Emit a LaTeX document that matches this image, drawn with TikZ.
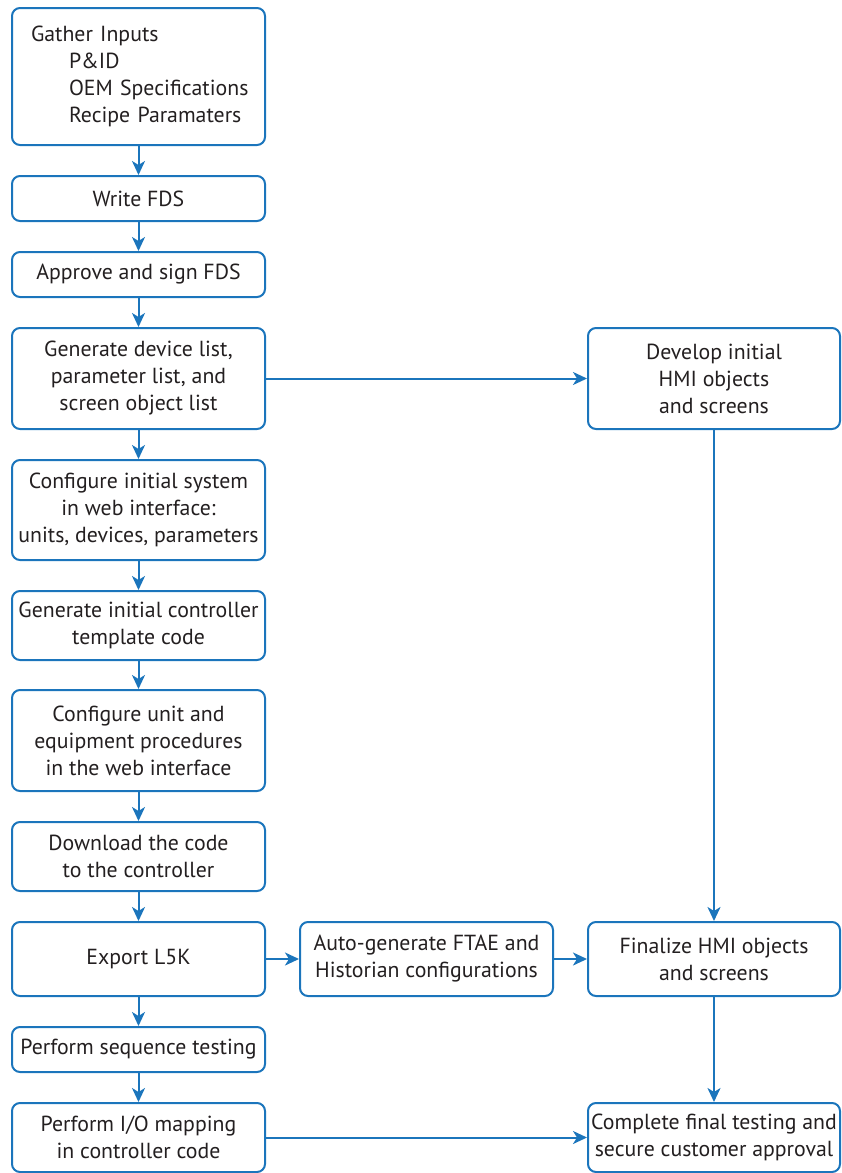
\documentclass[tikz,border=0pt]{standalone}
\usepackage{fontspec}
\setmainfont{PT Sans}
\usetikzlibrary{arrows.meta}
\definecolor{blu}{HTML}{1B75BC}
\definecolor{txt}{HTML}{231F20}
\begin{document}
\begin{tikzpicture}[x=1pt,y=-1pt,
  box/.style={draw=blu, line width=2pt, rounded corners=8pt, minimum width=253pt,
    align=center, inner sep=0pt, text=txt, font=\fontsize{21.8}{27}\selectfont},
  arr/.style={draw=blu, line width=2pt, -{Stealth[length=14pt,width=13pt,inset=4pt]}}]
\useasboundingbox (0,0) rectangle (841,1173);
% left column
\node[box, minimum height=137pt, align=left, text width=215pt, inner xsep=19pt] (b1) at (138.5,76.5)
  {\mbox{Gather Inputs}\\\hspace*{38pt}\mbox{P\&ID}\\\hspace*{38pt}\mbox{OEM Specifications}\\\hspace*{38pt}\mbox{Recipe Paramaters}};
\node[box, minimum height=45pt] (b2) at (138.5,198.5) {Write FDS};
\node[box, minimum height=45pt] (b3) at (138.5,274.5) {Approve and sign FDS};
\node[box, minimum height=101pt] (b4) at (138.5,378.5) {Generate device list,\\parameter list, and\\screen object list};
\node[box, minimum height=100pt] (b5) at (138.5,510) {Configure initial system\\in web interface:\\units, devices, parameters};
\node[box, minimum height=69pt] (b6) at (138.5,625.5) {Generate initial controller\\template code};
\node[box, minimum height=101pt] (b7) at (138.5,740.5) {Configure unit and\\equipment procedures\\in the web interface};
\node[box, minimum height=69pt] (b8) at (138.5,856.5) {Download the code\\to the controller};
\node[box, minimum height=74pt] (b9) at (138.5,959) {Export L5K};
\node[box, minimum height=45pt] (b10) at (138.5,1049.5) {Perform sequence testing};
\node[box, minimum height=69pt] (b11) at (138.5,1137.5) {Perform I/O mapping\\in controller code};
% middle and right
\node[box, minimum height=74pt] (auto) at (426.5,959) {Auto-generate FTAE and\\Historian configurations};
\node[box, minimum height=101pt, minimum width=252pt] (dev) at (714,378.5) {Develop initial\\HMI objects\\and screens};
\node[box, minimum height=74pt, minimum width=252pt] (fin) at (714,959) {Finalize HMI objects\\and screens};
\node[box, minimum height=69pt, minimum width=252pt] (comp) at (714,1137.5) {Complete final testing and\\secure customer approval};
% connectors
\draw[arr] (b1) -- (b2);
\draw[arr] (b2) -- (b3);
\draw[arr] (b3) -- (b4);
\draw[arr] (b4) -- (b5);
\draw[arr] (b5) -- (b6);
\draw[arr] (b6) -- (b7);
\draw[arr] (b7) -- (b8);
\draw[arr] (b8) -- (b9);
\draw[arr] (b9) -- (b10);
\draw[arr] (b10) -- (b11);
\draw[arr] (b4) -- (dev);
\draw[arr] (dev) -- (fin);
\draw[arr] (b9) -- (auto);
\draw[arr] (auto) -- (fin);
\draw[arr] (fin) -- (comp);
\draw[arr] (b11) -- (comp);
\end{tikzpicture}
\end{document}
